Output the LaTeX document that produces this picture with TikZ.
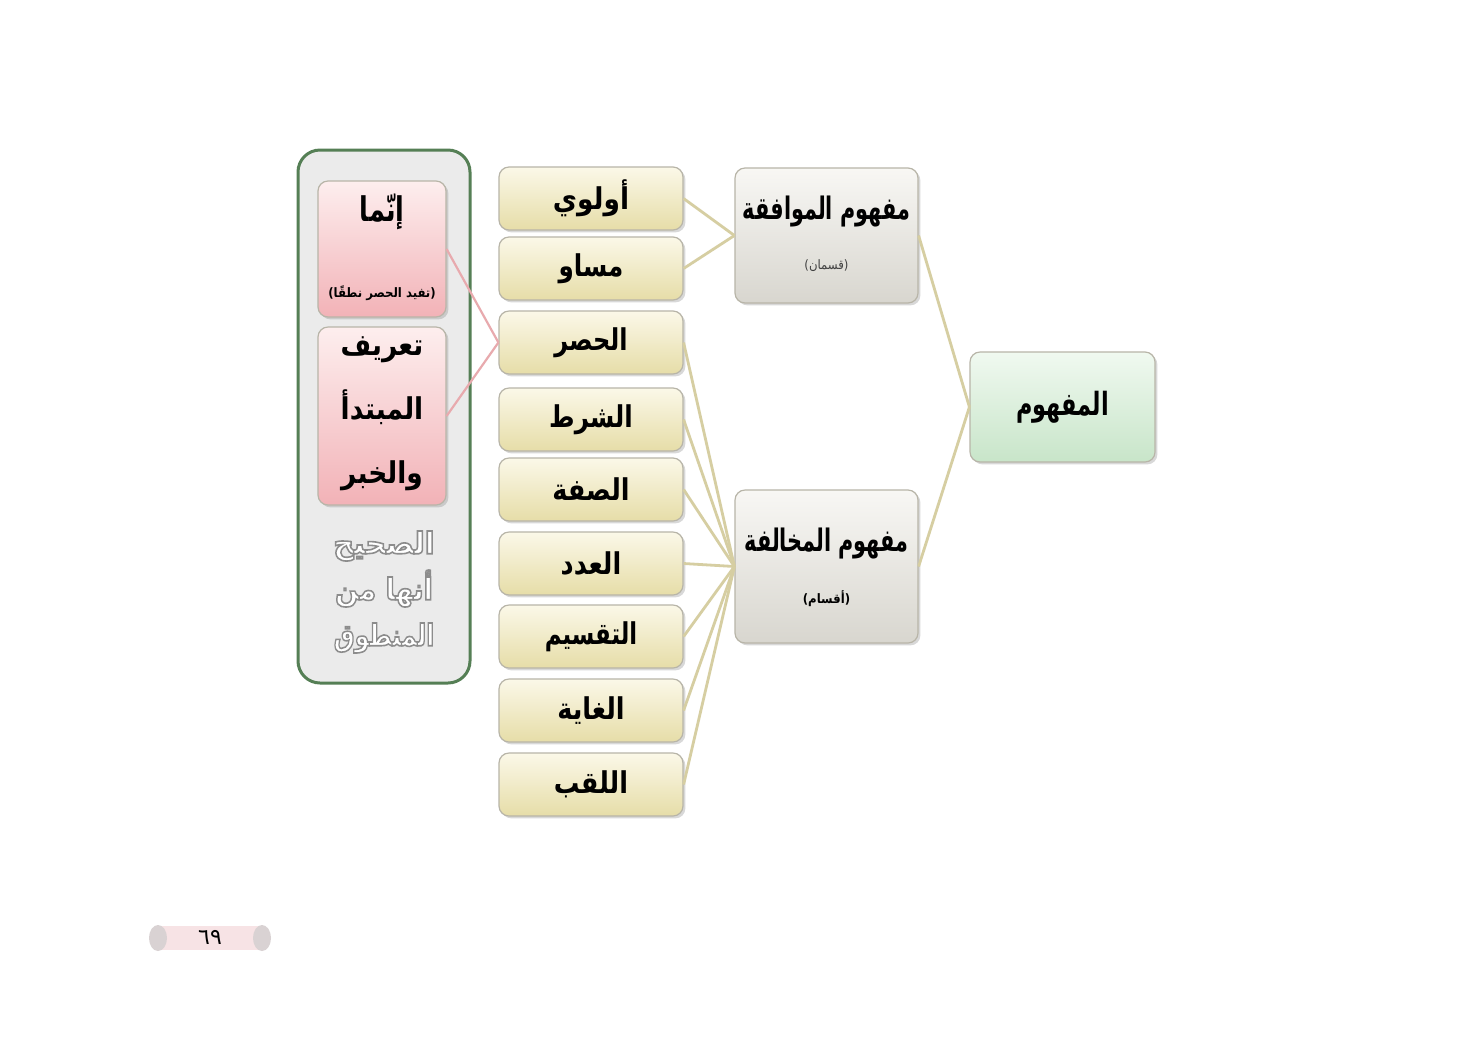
\documentclass[tikz,border=0pt]{standalone}
\usepackage{fontspec}
\usetikzlibrary{shadows}
\TeXXeTstate=1
\newfontfamily\arfont[Script=Arabic]{DejaVu Sans}
\newcommand\artxt[2][0.85]{\scalebox{#1}[1]{\arfont\beginR #2\endR}}
\newcommand\outlinetxt[1]{\special{pdf:literal direct 2 Tr 0.8 w 0.55 0.55 0.55 RG}#1\special{pdf:literal direct 0 Tr}}
\definecolor{leaftop}{HTML}{FBF8E8}
\definecolor{leafbot}{HTML}{E6DDA8}
\definecolor{boxedge}{HTML}{B8B5A8}
\definecolor{midtop}{HTML}{F8F7F4}
\definecolor{midbot}{HTML}{D8D6CF}
\definecolor{roottop}{HTML}{F0F9F0}
\definecolor{rootbot}{HTML}{C8E5C9}
\definecolor{pinktop}{HTML}{FDEEEE}
\definecolor{pinkbot}{HTML}{F2B2B7}
\definecolor{contfill}{HTML}{EBEBEB}
\definecolor{contedge}{HTML}{557F55}
\definecolor{tanline}{HTML}{D6CEA2}
\definecolor{pinkline}{HTML}{E8AAAE}
\definecolor{pageband}{HTML}{F7E3E5}
\definecolor{orn}{HTML}{D9D2D3}
\tikzset{
  box/.style={rounded corners=5pt, draw=boxedge, line width=0.6pt,
    drop shadow={shadow xshift=1.2pt, shadow yshift=-1.2pt, opacity=0.3}},
  leafbox/.style={box, top color=leaftop, bottom color=leafbot,
    minimum width=92pt, minimum height=31.5pt, inner sep=0pt,
    font=\arfont\bfseries\fontsize{15}{17}\selectfont},
  midbox/.style={box, top color=midtop, bottom color=midbot,
    minimum width=91.5pt, inner sep=0pt},
  rootbox/.style={box, top color=roottop, bottom color=rootbot,
    minimum width=92.5pt, minimum height=55pt, inner sep=0pt,
    font=\arfont\bfseries\fontsize{16}{18}\selectfont},
  pinkbox/.style={box, top color=pinktop, bottom color=pinkbot,
    minimum width=64pt, inner sep=0pt},
  bigtxt/.style={font=\arfont\bfseries\fontsize{15.5}{17}\selectfont, inner sep=0pt},
  smalltxt/.style={font=\arfont\fontsize{6.5}{8}\selectfont, inner sep=0pt},
  conn/.style={draw=tanline, line width=1.4pt},
  pconn/.style={draw=pinkline, line width=1.1pt},
}
\begin{document}
\begin{tikzpicture}[x=0.5pt, y=-0.5pt]
\useasboundingbox[fill=white] (0,0) rectangle (1477,1040);

% container
\node[draw=contedge, line width=1.5pt, fill=contfill, rounded corners=11pt,
  minimum width=86pt, minimum height=266.5pt] (cont) at (384,416.5) {};

% root and middle
\node[rootbox] (root) at (1062.5,407) {\artxt[0.7]{المفهوم}};
\node[midbox, minimum height=67.5pt] (muw) at (826.5,235.5) {};
\node[bigtxt] (muwt) at (826.5,212) {\artxt[0.67]{مفهوم الموافقة}};
\node[smalltxt, text=black!75] (muws) at (826.5,266) {\artxt[0.9]{(قسمان)}};
\node[midbox, minimum height=76.5pt] (mukh) at (826.5,566.5) {};
\node[bigtxt] (mukht) at (826.5,544) {\artxt[0.67]{مفهوم المخالفة}};
\node[smalltxt, font=\arfont\bfseries\fontsize{6.5}{8}\selectfont] (mukhs) at (826.5,599) {\artxt[0.9]{(أقسام)}};

% leaves
\node[leafbox] (l1) at (591,198.5) {\artxt[0.88]{أولوي}};
\node[leafbox] (l2) at (591,268.5) {\artxt[0.82]{مساو}};
\node[leafbox] (l3) at (591,342.5) {\artxt[0.8]{الحصر}};
\node[leafbox] (l4) at (591,419.5) {\artxt[0.82]{الشرط}};
\node[leafbox] (l5) at (591,489.5) {\artxt[0.85]{الصفة}};
\node[leafbox] (l6) at (591,563.5) {\artxt[0.85]{العدد}};
\node[leafbox] (l7) at (591,636.5) {\artxt[0.76]{التقسيم}};
\node[leafbox] (l8) at (591,710.5) {\artxt[0.85]{الغاية}};
\node[leafbox] (l9) at (591,784.5) {\artxt[0.85]{اللقب}};

% pink boxes
\node[pinkbox, minimum height=68pt] (inn) at (382,249) {};
\node[bigtxt, font=\arfont\bfseries\fontsize{17}{19}\selectfont] (innt) at (382,212) {\artxt[0.75]{إنّما}};
\node[smalltxt, font=\arfont\bfseries\fontsize{6.5}{8}\selectfont] (inns) at (382,293) {\artxt[0.9]{(تفيد الحصر نطقًا)}};
\node[pinkbox, minimum height=89pt] (tar) at (382,416) {};
\node[align=center, font=\arfont\bfseries\fontsize{15}{32}\selectfont, inner sep=0pt] (tart) at (382,414)
  {\artxt[0.88]{تعريف}\\\artxt[0.88]{المبتدأ}\\\artxt[0.88]{والخبر}};

% outlined note
\node[align=center, text=white, font=\arfont\bfseries\fontsize{15}{23}\selectfont, inner sep=0pt] (note) at (384,592)
  {\outlinetxt{\artxt[0.95]{الصحيح}}\\\outlinetxt{\artxt[0.9]{أنها من}}\\\outlinetxt{\artxt[0.78]{المنطوق}}};

% connectors
\draw[conn] (root.west) -- (muw.east);
\draw[conn] (root.west) -- (mukh.east);
\foreach \l in {l1,l2} \draw[conn] (muw.west) -- (\l.east);
\foreach \l in {l3,l4,l5,l6,l7,l8,l9} \draw[conn] (mukh.west) -- (\l.east);
\draw[pconn] (l3.west) -- (inn.east);
\draw[pconn] (l3.west) -- (tar.east);

% page number
\fill[pageband] (160,926) rectangle (260,950);
\fill[orn] (158,938) ellipse (9 and 13);
\fill[orn] (262,938) ellipse (9 and 13);
\node[font=\arfont\fontsize{11}{13}\selectfont, inner sep=0pt] (pg) at (210,937) {٦٩};
\end{tikzpicture}
\end{document}
